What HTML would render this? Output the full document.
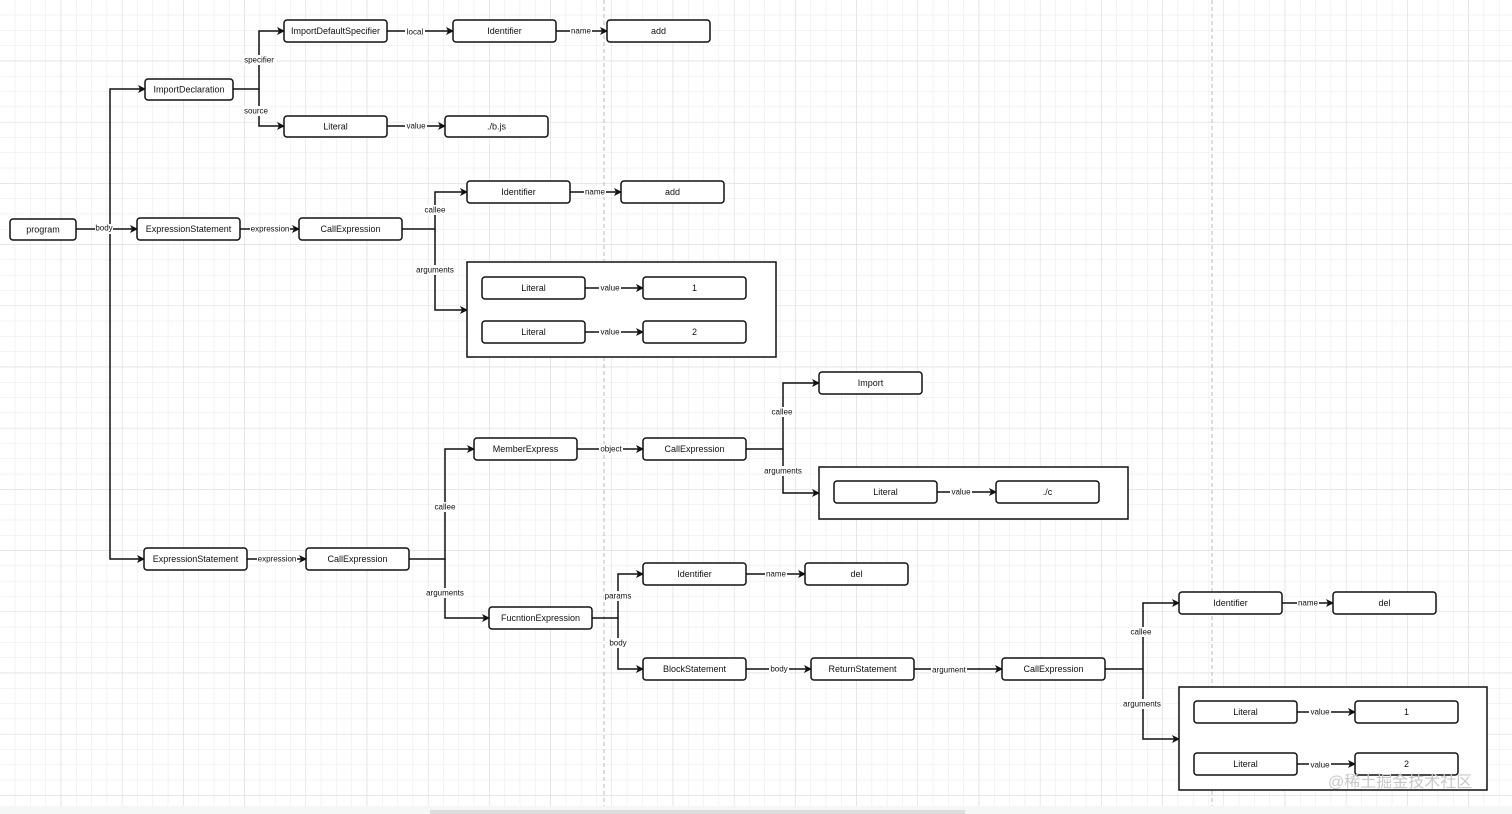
<!DOCTYPE html>
<html><head><meta charset="utf-8"><style>
html,body{margin:0;padding:0;background:#fff;}
svg{display:block;font-family:"Liberation Sans",Arial,sans-serif;}
.b{fill:#fff;stroke:#111;stroke-width:1.5;}
.c{fill:none;stroke:#111;stroke-width:1.5;}
.t{font-size:9px;fill:#111;text-anchor:middle;dominant-baseline:central;}
.l{font-size:8px;fill:#111;text-anchor:middle;dominant-baseline:central;}
.lb{fill:#fff;}
</style></head><body>
<svg width="1512" height="814" viewBox="0 0 1512 814" xmlns="http://www.w3.org/2000/svg">
<defs>
<pattern id="g1" width="15.3" height="15.3" patternUnits="userSpaceOnUse"><path d="M15.3 0V15.3M0 15.3H15.3" fill="none" stroke="#e8e8e8" stroke-width="1"/></pattern>
<pattern id="g2" width="61.2" height="61.2" patternUnits="userSpaceOnUse"><path d="M61.2 0V61.2M0 61.2H61.2" fill="none" stroke="#d8d8d8" stroke-width="1"/></pattern>
<marker id="a" markerWidth="8" markerHeight="8" refX="7" refY="4" orient="auto" markerUnits="userSpaceOnUse"><path d="M0,0 L8,4 L0,8 L2,4 Z" fill="#111"/></marker>
</defs>
<rect width="1512" height="814" fill="url(#g1)"/>
<rect width="1512" height="814" fill="url(#g2)"/>
<line x1="604" y1="0" x2="604" y2="814" stroke="#bbb" stroke-dasharray="4,3"/>
<line x1="1212" y1="0" x2="1212" y2="814" stroke="#bbb" stroke-dasharray="4,3"/>
<rect x="0" y="806" width="1512" height="8" fill="#f5f7f7"/>
<rect x="430" y="810" width="535" height="4" fill="#ddd"/>

<!-- connectors -->
<g class="c">
<path d="M76 229H137" marker-end="url(#a)"/>
<path d="M110 229V89H145" marker-end="url(#a)"/>
<path d="M110 229V559H144" marker-end="url(#a)"/>
<path d="M233 89H259V31H284" marker-end="url(#a)"/>
<path d="M259 89V126H284" marker-end="url(#a)"/>
<path d="M387 31H453" marker-end="url(#a)"/>
<path d="M556 31H607" marker-end="url(#a)"/>
<path d="M387 126H445" marker-end="url(#a)"/>
<path d="M240 229H299" marker-end="url(#a)"/>
<path d="M402 229H435V192H467" marker-end="url(#a)"/>
<path d="M435 229V310H467" marker-end="url(#a)"/>
<path d="M570 192H621" marker-end="url(#a)"/>
<path d="M585 288H643" marker-end="url(#a)"/>
<path d="M585 332H643" marker-end="url(#a)"/>
<path d="M247 559H306" marker-end="url(#a)"/>
<path d="M409 559H445V449H474" marker-end="url(#a)"/>
<path d="M445 559V618H489" marker-end="url(#a)"/>
<path d="M577 449H643" marker-end="url(#a)"/>
<path d="M746 449H783V383H819" marker-end="url(#a)"/>
<path d="M783 449V493H819" marker-end="url(#a)"/>
<path d="M937 492H996" marker-end="url(#a)"/>
<path d="M592 618H618V574H643" marker-end="url(#a)"/>
<path d="M618 618V669H643" marker-end="url(#a)"/>
<path d="M746 574H805" marker-end="url(#a)"/>
<path d="M746 669H811" marker-end="url(#a)"/>
<path d="M914 669H1002" marker-end="url(#a)"/>
<path d="M1105 669H1143V603H1179" marker-end="url(#a)"/>
<path d="M1143 669V739H1179" marker-end="url(#a)"/>
<path d="M1282 603H1333" marker-end="url(#a)"/>
<path d="M1297 712H1355" marker-end="url(#a)"/>
<path d="M1297 764H1355" marker-end="url(#a)"/>
</g>

<!-- containers -->
<rect x="467" y="262" width="309" height="95" fill="#fff" stroke="#111" stroke-width="1.5"/>
<rect x="819" y="467" width="309" height="52" fill="#fff" stroke="#111" stroke-width="1.5"/>
<rect x="1179" y="687" width="308" height="103" fill="#fff" stroke="#111" stroke-width="1.5"/>
<g class="c">
<path d="M585 288H643" marker-end="url(#a)"/>
<path d="M585 332H643" marker-end="url(#a)"/>
<path d="M937 492H996" marker-end="url(#a)"/>
<path d="M1297 712H1355" marker-end="url(#a)"/>
<path d="M1297 764H1355" marker-end="url(#a)"/>
</g>

<!-- edge labels -->
<g>
<rect class="lb" x="95" y="224" width="18" height="10"/><text class="l" x="104" y="228">body</text>
<rect class="lb" x="242" y="55" width="34" height="10"/><text class="l" x="259" y="60">specifier</text>
<rect class="lb" x="243" y="106" width="27" height="10"/><text class="l" x="256" y="111">source</text>
<rect class="lb" x="405" y="27" width="20" height="10"/><text class="l" x="415" y="32">local</text>
<rect class="lb" x="570" y="26" width="22" height="10"/><text class="l" x="581" y="31">name</text>
<rect class="lb" x="405" y="121" width="22" height="10"/><text class="l" x="416" y="126">value</text>
<rect class="lb" x="250" y="224" width="40" height="10"/><text class="l" x="270" y="229">expression</text>
<rect class="lb" x="424" y="205" width="22" height="10"/><text class="l" x="435" y="210">callee</text>
<rect class="lb" x="416" y="265" width="38" height="10"/><text class="l" x="435" y="270">arguments</text>
<rect class="lb" x="584" y="187" width="22" height="10"/><text class="l" x="595" y="192">name</text>
<rect class="lb" x="599" y="283" width="22" height="10"/><text class="l" x="610" y="288">value</text>
<rect class="lb" x="599" y="327" width="22" height="10"/><text class="l" x="610" y="332">value</text>
<rect class="lb" x="257" y="554" width="40" height="10"/><text class="l" x="277" y="559">expression</text>
<rect class="lb" x="434" y="502" width="22" height="10"/><text class="l" x="445" y="507">callee</text>
<rect class="lb" x="426" y="588" width="38" height="10"/><text class="l" x="445" y="593">arguments</text>
<rect class="lb" x="599" y="444" width="24" height="10"/><text class="l" x="611" y="449">object</text>
<rect class="lb" x="771" y="407" width="22" height="10"/><text class="l" x="782" y="412">callee</text>
<rect class="lb" x="764" y="466" width="38" height="10"/><text class="l" x="783" y="471">arguments</text>
<rect class="lb" x="950" y="487" width="22" height="10"/><text class="l" x="961" y="492">value</text>
<rect class="lb" x="604" y="591" width="28" height="10"/><text class="l" x="618" y="596">params</text>
<rect class="lb" x="608" y="638" width="20" height="10"/><text class="l" x="618" y="643">body</text>
<rect class="lb" x="765" y="569" width="22" height="10"/><text class="l" x="776" y="574">name</text>
<rect class="lb" x="769" y="664" width="20" height="10"/><text class="l" x="779" y="669">body</text>
<rect class="lb" x="931" y="665" width="36" height="10"/><text class="l" x="949" y="670">argument</text>
<rect class="lb" x="1130" y="627" width="22" height="10"/><text class="l" x="1141" y="632">callee</text>
<rect class="lb" x="1123" y="699" width="38" height="10"/><text class="l" x="1142" y="704">arguments</text>
<rect class="lb" x="1297" y="598" width="22" height="10"/><text class="l" x="1308" y="603">name</text>
<rect class="lb" x="1309" y="707" width="22" height="10"/><text class="l" x="1320" y="712">value</text>
<rect class="lb" x="1309" y="760" width="22" height="10"/><text class="l" x="1320" y="765">value</text>
</g>

<!-- boxes -->
<g>
<rect class="b" x="10" y="219" width="66" height="21" rx="3"/><text class="t" x="43" y="229.5">program</text>
<rect class="b" x="145" y="79" width="88" height="21" rx="3"/><text class="t" x="189" y="89.5">ImportDeclaration</text>
<rect class="b" x="284" y="20" width="103" height="22" rx="3"/><text class="t" x="335.5" y="31">ImportDefaultSpecifier</text>
<rect class="b" x="453" y="20" width="103" height="22" rx="3"/><text class="t" x="504.5" y="31">Identifier</text>
<rect class="b" x="607" y="20" width="103" height="22" rx="3"/><text class="t" x="658.5" y="31">add</text>
<rect class="b" x="284" y="116" width="103" height="21" rx="3"/><text class="t" x="335.5" y="126.5">Literal</text>
<rect class="b" x="445" y="116" width="103" height="21" rx="3"/><text class="t" x="496.5" y="126.5">./b.js</text>
<rect class="b" x="137" y="218" width="103" height="22" rx="3"/><text class="t" x="188.5" y="229">ExpressionStatement</text>
<rect class="b" x="299" y="218" width="103" height="22" rx="3"/><text class="t" x="350.5" y="229">CallExpression</text>
<rect class="b" x="467" y="181" width="103" height="22" rx="3"/><text class="t" x="518.5" y="192">Identifier</text>
<rect class="b" x="621" y="181" width="103" height="22" rx="3"/><text class="t" x="672.5" y="192">add</text>
<rect class="b" x="482" y="277" width="103" height="22" rx="3"/><text class="t" x="533.5" y="288">Literal</text>
<rect class="b" x="643" y="277" width="103" height="22" rx="3"/><text class="t" x="694.5" y="288">1</text>
<rect class="b" x="482" y="321" width="103" height="22" rx="3"/><text class="t" x="533.5" y="332">Literal</text>
<rect class="b" x="643" y="321" width="103" height="22" rx="3"/><text class="t" x="694.5" y="332">2</text>
<rect class="b" x="819" y="372" width="103" height="22" rx="3"/><text class="t" x="870.5" y="383">Import</text>
<rect class="b" x="474" y="438" width="103" height="22" rx="3"/><text class="t" x="525.5" y="449">MemberExpress</text>
<rect class="b" x="643" y="438" width="103" height="22" rx="3"/><text class="t" x="694.5" y="449">CallExpression</text>
<rect class="b" x="834" y="481" width="103" height="22" rx="3"/><text class="t" x="885.5" y="492">Literal</text>
<rect class="b" x="996" y="481" width="103" height="22" rx="3"/><text class="t" x="1047.5" y="492">./c</text>
<rect class="b" x="144" y="548" width="103" height="22" rx="3"/><text class="t" x="195.5" y="559">ExpressionStatement</text>
<rect class="b" x="306" y="548" width="103" height="22" rx="3"/><text class="t" x="357.5" y="559">CallExpression</text>
<rect class="b" x="643" y="563" width="103" height="22" rx="3"/><text class="t" x="694.5" y="574">Identifier</text>
<rect class="b" x="805" y="563" width="103" height="22" rx="3"/><text class="t" x="856.5" y="574">del</text>
<rect class="b" x="489" y="607" width="103" height="22" rx="3"/><text class="t" x="540.5" y="618">FucntionExpression</text>
<rect class="b" x="643" y="658" width="103" height="22" rx="3"/><text class="t" x="694.5" y="669">BlockStatement</text>
<rect class="b" x="811" y="658" width="103" height="22" rx="3"/><text class="t" x="862.5" y="669">ReturnStatement</text>
<rect class="b" x="1002" y="658" width="103" height="22" rx="3"/><text class="t" x="1053.5" y="669">CallExpression</text>
<rect class="b" x="1179" y="592" width="103" height="22" rx="3"/><text class="t" x="1230.5" y="603">Identifier</text>
<rect class="b" x="1333" y="592" width="103" height="22" rx="3"/><text class="t" x="1384.5" y="603">del</text>
<rect class="b" x="1194" y="701" width="103" height="22" rx="3"/><text class="t" x="1245.5" y="712">Literal</text>
<rect class="b" x="1355" y="701" width="103" height="22" rx="3"/><text class="t" x="1406.5" y="712">1</text>
<rect class="b" x="1194" y="753" width="103" height="22" rx="3"/><text class="t" x="1245.5" y="764">Literal</text>
<rect class="b" x="1355" y="753" width="103" height="22" rx="3"/><text class="t" x="1406.5" y="764">2</text>
</g>
<text x="1328" y="787" style="font-size:16px;fill:#c8c8c8;font-family:'Liberation Sans','Noto Sans CJK SC',sans-serif;">@稀土掘金技术社区</text>
</svg>
</body></html>
